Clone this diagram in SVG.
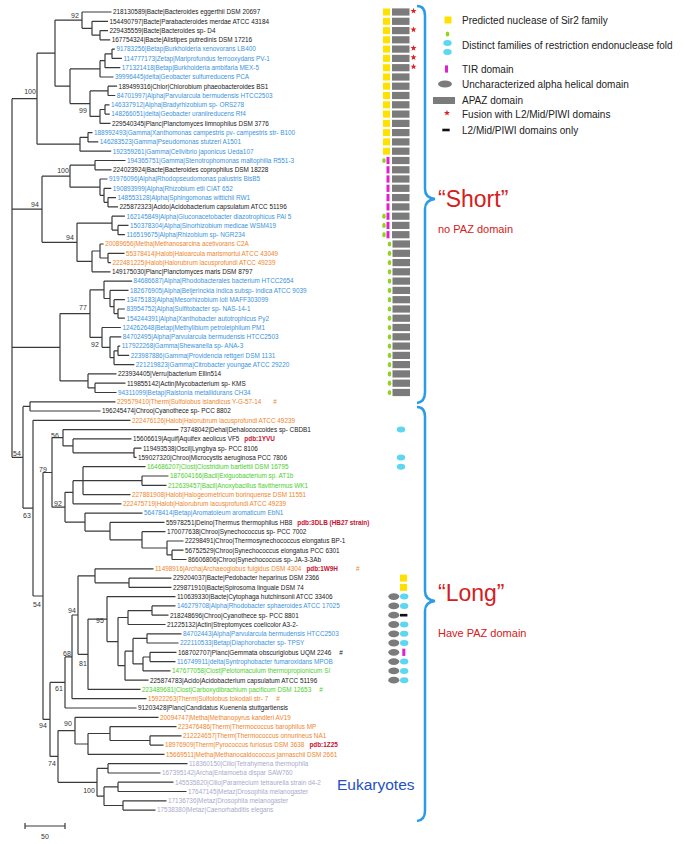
<svg xmlns="http://www.w3.org/2000/svg" xmlns:xlink="http://www.w3.org/1999/xlink" width="685" height="844" viewBox="0 0 685 844">
<style>
text{font-family:"Liberation Sans",Arial,sans-serif}
.l{font-size:6.4px}
.k{fill:#1a1a1a}.b{fill:#3a94dc}.o{fill:#f0862a}.g{fill:#4ccf2a}.v{fill:#aaaacd}
.pdb{fill:#c8102e;font-weight:bold}
.bs{font-size:7px;fill:#333;text-anchor:middle}
.tree{stroke:#3a3a3a;stroke-width:1.2;fill:none}
.lg{font-size:10px;fill:#222}
.brace{stroke:#2b9be8;stroke-width:2.5;fill:none}
.big{font-size:23px;fill:#d42020}
.sub{font-size:11px;fill:#d42020}
</style>
<defs>
<rect id="sq" x="-3.5" y="-3.5" width="7" height="7" fill="#ffe100"/>
<rect id="apaz" x="0" y="-3.6" width="17.5" height="7.2" fill="#7b7b7b"/>
<path id="star" d="M0,-3.2L0.76,-1.05L3.04,-0.99L1.24,0.4L1.88,2.59L0,1.3L-1.88,2.59L-1.24,0.4L-3.04,-0.99L-0.76,-1.05Z" fill="#e02020"/>
<ellipse id="gd" rx="1.8" ry="2.6" fill="#8fd420"/>
<rect id="tir" x="-1.5" y="-3.6" width="3" height="7.2" fill="#e020d0"/>
<ellipse id="cy" rx="4.2" ry="3" fill="#5dd6f2"/>
<ellipse id="gel" rx="5.5" ry="3.4" fill="#7b7b7b"/>
<rect id="blk" x="-3.7" y="-1.3" width="7.4" height="2.6" fill="#111"/>
</defs>

<g id="connectors">
<path class="tree" d="M100 30.6V39.8M100 30.6H108M100 39.8H110.2M92 21.3V35.2M92 21.3H108M92 35.2H100M82 12V28.3M82 12H111.5M82 28.3H92M112 49.1V58.4M112 49.1H114.9M112 58.4H122M105 53.8V67.7M105 53.8H112M105 67.7H120.3M100 60.7V77M100 60.7H105M100 77H113.5M108 86.2V95.5M108 86.2H117.1M108 95.5H115.3M105 104.8V114.1M105 104.8H109.5M105 114.1H109.8M100 109.5V123.4M100 109.5H105M100 123.4H110.5M90 90.9V116.4M90 90.9H108M90 116.4H100M70 68.9V103.6M70 68.9H100M70 103.6H90M55 20.1V86.2M55 20.1H82M55 86.2H70M88 132.6V141.9M88 132.6H92.5M88 141.9H98.3M80 137.3V151.2M80 137.3H88M80 151.2H111.2M37 53.2V144.2M37 53.2H55M37 144.2H80"/>
<path class="tree" d="M95 160.5V169.8M95 160.5H125.5M95 169.8H111.5M108 197.6V206.9M108 197.6H116M108 206.9H118M104 188.3V202.3M104 188.3H111.3M104 202.3H108M100 179V195.3M100 179H107.5M100 195.3H104M70 165.2V187.2M70 165.2H95M70 187.2H100M118 225.4V234.7M118 225.4H128.5M118 234.7H124.9M112 216.2V230.1M112 216.2H124.9M112 230.1H118M108 253.3V262.6M108 253.3H124.5M108 262.6H110.9M100 244V258M100 244H103.7M100 258H108M92 251V271.8M92 251H100M92 271.8H110.5M77 223.1V261.4M77 223.1H112M77 261.4H92M42 176.2V242.3M42 176.2H70M42 242.3H77"/>
<path class="tree" d="M118 309V318.2M118 309H124.9M118 318.2H124.9M114 299.7V313.6M114 299.7H124.9M114 313.6H118M110 290.4V306.7M110 290.4H128.5M110 306.7H114M104 281.1V298.5M104 281.1H132.1M104 298.5H110M118 346.1V355.4M118 346.1H120.2M118 355.4H129.2M114 350.8V364.6M114 350.8H118M114 364.6H134.3M110 336.8V357.7M110 336.8H121.3M110 357.7H114M102 327.5V347.3M102 327.5H120.9M102 347.3H110M90 289.8V337.4M90 289.8H104M90 337.4H102M95 383.2V392.5M95 383.2H125.5M95 392.5H116.5M88 373.9V387.9M88 373.9H116.5M88 387.9H95M60 313.6V380.9M60 313.6H90M60 380.9H88M12 98.7V457.3M12 98.7H37M12 209.2H42M12 347.3H60M12 457.3H23"/>
<path class="tree" d="M30 401.8V411M30 401.8H115.5M30 411H100.5M23 406.4V508.1M23 406.4H30M23 508.1H33M33 420.3V596M33 420.3H130.5M33 596H43M43 472.5V719.4M43 472.5H52M43 719.4H50M52 437.7V507.2M52 437.7H63M52 507.2H65M63 429.6V445.9M63 429.6H178.5M63 445.9H73M73 438.9V452.8M73 438.9H131.5M73 452.8H134M134 448.2V457.4M134 448.2H141.5M134 457.4H136.5M65 492.3V522.1M65 492.3H73M65 522.1H85M73 480.7V503.8M73 480.7H83M73 503.8H121.5M83 466.7V494.6M83 466.7H145.5M83 480.7H142M83 494.6H130.5M142 476V485.3M142 476H168.5M142 485.3H166.5M85 513.1V531.1M85 513.1H142.5M85 531.1H110M110 522.4V539.8M110 522.4H164.5M110 539.8H142M142 531.7V548M142 531.7H165.5M142 548H167M167 541V554.9M167 541H183.5M167 554.9H172M172 550.2V559.5M172 550.2H183.5M172 559.5H186.5M129 578.1V587.4M129 578.1H171.5M129 587.4H171.5M95 568.8V582.8M95 568.8H153.5M95 582.8H129M152 605.9V615.2M152 605.9H175.5M152 615.2H168.5M128 610.6V624.5M128 610.6H152M128 624.5H165.5M147 633.8V643M147 633.8H181.5M147 643H178.5M150 652.3V661.6M150 652.3H176.5M150 661.6H175.5M143 657V670.9M143 657H150M143 670.9H170.5M133 638.4V663.9M133 638.4H147M133 663.9H143M125 651.2V680.2M125 651.2H133M125 680.2H148.5M118 617.5V665.7M118 617.5H128M118 665.7H125M107 596.6V641.6M107 596.6H175.5M107 641.6H118M88 619.1V689.4M88 619.1H107M88 689.4H140.5M78 575.8V654.3M78 575.8H95M78 654.3H88M72 615V698.7M72 615H78M72 698.7H146.5M65 656.9V708M65 656.9H72M65 708H136.5M150 735.8V745.1M150 735.8H181.5M150 745.1H163.5M110 726.6V740.5M110 726.6H176.5M110 740.5H150M88 733.5V754.4M88 733.5H110M88 754.4H164.5M75 717.3V744M75 717.3H158.5M75 744H88M108 763.7V773M108 763.7H187.5M108 773H160.5M118 782.2V791.5M118 782.2H173.5M118 791.5H186.5M123 800.8V810.1M123 800.8H166.5M123 810.1H155.5M104 786.9V805.5M104 786.9H118M104 805.5H123M97 768.4V796.2M97 768.4H108M97 796.2H104M58 730.6V782.3M58 730.6H75M58 782.3H97M50 682.4V756.4M50 682.4H65M50 756.4H58"/>
</g>

<g id="bootstrap">
<text class="bs" x="75" y="17.5">92</text>
<text class="bs" x="30" y="94">100</text>
<text class="bs" x="83" y="113">99</text>
<text class="bs" x="63" y="172.5">100</text>
<text class="bs" x="35" y="206.5">94</text>
<text class="bs" x="70" y="239.5">94</text>
<text class="bs" x="83" y="309.5">77</text>
<text class="bs" x="95" y="346.5">92</text>
<text class="bs" x="55" y="437.5">56</text>
<text class="bs" x="17" y="455.5">54</text>
<text class="bs" x="43" y="471.5">79</text>
<text class="bs" x="58" y="505.5">92</text>
<text class="bs" x="27" y="517.5">63</text>
<text class="bs" x="37" y="606.5">54</text>
<text class="bs" x="72" y="612.5">94</text>
<text class="bs" x="100" y="622.5">95</text>
<text class="bs" x="67" y="655.5">68</text>
<text class="bs" x="83" y="665.5">81</text>
<text class="bs" x="59" y="690.5">61</text>
<text class="bs" x="68" y="725.5">90</text>
<text class="bs" x="43" y="727.5">94</text>
<text class="bs" x="52" y="765.5">74</text>
<text class="bs" x="89" y="792.5">100</text>
</g>

<g id="leaf1" transform="translate(0,12)"><text class="l k" x="113" y="2.3">218130589|Bacte|Bacteroides eggerthii DSM 20697</text><use href="#sq" x="386.5"/><use href="#apaz" x="392"/><use href="#star" x="413.5" y="-1"/></g>
<g id="leaf2" transform="translate(0,21.3)"><text class="l k" x="109.5" y="2.3">154490797|Bacte|Parabacteroides merdae ATCC 43184</text><use href="#sq" x="386.5"/><use href="#apaz" x="392"/></g>
<g id="leaf3" transform="translate(0,30.6)"><text class="l k" x="109.5" y="2.3">229435559|Bacte|Bacteroides sp- D4</text><use href="#sq" x="386.5"/><use href="#apaz" x="392"/><use href="#star" x="413.5" y="-1"/></g>
<g id="leaf4" transform="translate(0,39.8)"><text class="l k" x="111.7" y="2.3">167754324|Bacte|Alistipes putredinis DSM 17216</text><use href="#sq" x="386.5"/><use href="#apaz" x="392"/></g>
<g id="leaf5" transform="translate(0,49.1)"><text class="l b" x="116.4" y="2.3">91783256|Betap|Burkholderia xenovorans LB400</text><use href="#sq" x="386.5"/><use href="#apaz" x="392"/><use href="#star" x="413.5" y="-1"/></g>
<g id="leaf6" transform="translate(0,58.4)"><text class="l b" x="123.5" y="2.3">114777173|Zetap|Mariprofundus ferrooxydans PV-1</text><use href="#sq" x="386.5"/><use href="#apaz" x="392"/><use href="#star" x="413.5" y="-1"/></g>
<g id="leaf7" transform="translate(0,67.7)"><text class="l b" x="121.8" y="2.3">171321418|Betap|Burkholderia ambifaria MEX-5</text><use href="#sq" x="386.5"/><use href="#apaz" x="392"/><use href="#star" x="413.5" y="-1"/></g>
<g id="leaf8" transform="translate(0,77)"><text class="l b" x="115" y="2.3">39996445|delta|Geobacter sulfurreducens PCA</text><use href="#sq" x="386.5"/><use href="#apaz" x="392"/></g>
<g id="leaf9" transform="translate(0,86.2)"><text class="l k" x="118.6" y="2.3">189499316|Chlor|Chlorobium phaeobacteroides BS1</text><use href="#sq" x="386.5"/><use href="#apaz" x="392"/></g>
<g id="leaf10" transform="translate(0,95.5)"><text class="l b" x="116.8" y="2.3">84701997|Alpha|Parvularcula bermudensis HTCC2503</text><use href="#sq" x="386.5"/><use href="#apaz" x="392"/></g>
<g id="leaf11" transform="translate(0,104.8)"><text class="l b" x="111" y="2.3">146337912|Alpha|Bradyrhizobium sp- ORS278</text><use href="#sq" x="386.5"/><use href="#apaz" x="392"/></g>
<g id="leaf12" transform="translate(0,114.1)"><text class="l b" x="111.3" y="2.3">148266051|delta|Geobacter uraniireducens Rf4</text><use href="#sq" x="386.5"/><use href="#apaz" x="392"/></g>
<g id="leaf13" transform="translate(0,123.4)"><text class="l k" x="112" y="2.3">229540345|Planc|Planctomyces limnophilus DSM 3776</text><use href="#sq" x="386.5"/><use href="#apaz" x="392"/></g>
<g id="leaf14" transform="translate(0,132.6)"><text class="l b" x="94" y="2.3">188992493|Gamma|Xanthomonas campestris pv- campestris str- B100</text><use href="#sq" x="386.5"/><use href="#apaz" x="392"/></g>
<g id="leaf15" transform="translate(0,141.9)"><text class="l b" x="99.8" y="2.3">146283523|Gamma|Pseudomonas stutzeri A1501</text><use href="#sq" x="386.5"/><use href="#apaz" x="392"/></g>
<g id="leaf16" transform="translate(0,151.2)"><text class="l b" x="112.7" y="2.3">192359261|Gamma|Cellvibrio japonicus Ueda107</text><use href="#sq" x="386.5"/><use href="#apaz" x="392"/></g>
<g id="leaf17" transform="translate(0,160.5)"><text class="l b" x="127" y="2.3">194365751|Gamma|Stenotrophomonas maltophilia R551-3</text><use href="#gd" x="384"/><use href="#tir" x="388"/><use href="#apaz" x="392"/></g>
<g id="leaf18" transform="translate(0,169.8)"><text class="l k" x="113" y="2.3">224023924|Bacte|Bacteroides coprophilus DSM 18228</text><use href="#tir" x="388"/><use href="#apaz" x="392"/></g>
<g id="leaf19" transform="translate(0,179)"><text class="l b" x="109" y="2.3">91976096|Alpha|Rhodopseudomonas palustris BisB5</text><use href="#tir" x="388"/><use href="#apaz" x="392"/></g>
<g id="leaf20" transform="translate(0,188.3)"><text class="l b" x="112.8" y="2.3">190893999|Alpha|Rhizobium etli CIAT 652</text><use href="#tir" x="388"/><use href="#apaz" x="392"/></g>
<g id="leaf21" transform="translate(0,197.6)"><text class="l b" x="117.5" y="2.3">148553128|Alpha|Sphingomonas wittichii RW1</text><use href="#tir" x="388"/><use href="#apaz" x="392"/></g>
<g id="leaf22" transform="translate(0,206.9)"><text class="l k" x="119.5" y="2.3">225872323|Acido|Acidobacterium capsulatum ATCC 51196</text><use href="#tir" x="388"/><use href="#apaz" x="392"/></g>
<g id="leaf23" transform="translate(0,216.2)"><text class="l b" x="126.4" y="2.3">162145849|Alpha|Gluconacetobacter diazotrophicus PAl 5</text><use href="#gd" x="384"/><use href="#tir" x="388"/><use href="#apaz" x="392"/></g>
<g id="leaf24" transform="translate(0,225.4)"><text class="l b" x="130" y="2.3">150378304|Alpha|Sinorhizobium medicae WSM419</text><use href="#gd" x="384"/><use href="#tir" x="388"/><use href="#apaz" x="392"/></g>
<g id="leaf25" transform="translate(0,234.7)"><text class="l b" x="126.4" y="2.3">116519675|Alpha|Rhizobium sp- NGR234</text><use href="#gd" x="384"/><use href="#tir" x="388"/><use href="#apaz" x="392"/></g>
<g id="leaf26" transform="translate(0,244)"><text class="l o" x="105.2" y="2.3">20089656|Metha|Methanosarcina acetivorans C2A</text><use href="#gd" x="389.5"/><use href="#apaz" x="392.5"/></g>
<g id="leaf27" transform="translate(0,253.3)"><text class="l o" x="126" y="2.3">55378414|Halob|Haloarcula marismortui ATCC 43049</text><use href="#gd" x="389.5"/><use href="#apaz" x="392.5"/></g>
<g id="leaf28" transform="translate(0,262.6)"><text class="l o" x="112.4" y="2.3">222481225|Halob|Halorubrum lacusprofundi ATCC 49239</text><use href="#gd" x="389.5"/><use href="#apaz" x="392.5"/></g>
<g id="leaf29" transform="translate(0,271.8)"><text class="l k" x="112" y="2.3">149175030|Planc|Planctomyces maris DSM 8797</text><use href="#gd" x="389.5"/><use href="#apaz" x="392.5"/></g>
<g id="leaf30" transform="translate(0,281.1)"><text class="l b" x="133.6" y="2.3">84686687|Alpha|Rhodobacterales bacterium HTCC2654</text><use href="#gd" x="389.5"/><use href="#apaz" x="392.5"/></g>
<g id="leaf31" transform="translate(0,290.4)"><text class="l b" x="130" y="2.3">182676905|Alpha|Beijerinckia indica subsp- indica ATCC 9039</text><use href="#gd" x="389.5"/><use href="#apaz" x="392.5"/></g>
<g id="leaf32" transform="translate(0,299.7)"><text class="l b" x="126.4" y="2.3">13475183|Alpha|Mesorhizobium loti MAFF303099</text><use href="#gd" x="389.5"/><use href="#apaz" x="392.5"/></g>
<g id="leaf33" transform="translate(0,309)"><text class="l b" x="126.4" y="2.3">83954752|Alpha|Sulfitobacter sp- NAS-14-1</text><use href="#gd" x="389.5"/><use href="#apaz" x="392.5"/></g>
<g id="leaf34" transform="translate(0,318.2)"><text class="l b" x="126.4" y="2.3">154244391|Alpha|Xanthobacter autotrophicus Py2</text><use href="#gd" x="389.5"/><use href="#apaz" x="392.5"/></g>
<g id="leaf35" transform="translate(0,327.5)"><text class="l b" x="122.4" y="2.3">124262648|Betap|Methylibium petroleiphilum PM1</text><use href="#gd" x="389.5"/><use href="#apaz" x="392.5"/></g>
<g id="leaf36" transform="translate(0,336.8)"><text class="l b" x="122.8" y="2.3">84702495|Alpha|Parvularcula bermudensis HTCC2503</text><use href="#gd" x="389.5"/><use href="#apaz" x="392.5"/></g>
<g id="leaf37" transform="translate(0,346.1)"><text class="l b" x="121.7" y="2.3">117922268|Gamma|Shewanella sp- ANA-3</text><use href="#gd" x="389.5"/><use href="#apaz" x="392.5"/></g>
<g id="leaf38" transform="translate(0,355.4)"><text class="l b" x="130.7" y="2.3">223987886|Gamma|Providencia rettgeri DSM 1131</text><use href="#gd" x="389.5"/><use href="#apaz" x="392.5"/></g>
<g id="leaf39" transform="translate(0,364.6)"><text class="l b" x="135.8" y="2.3">221219823|Gamma|Citrobacter youngae ATCC 29220</text><use href="#gd" x="389.5"/><use href="#apaz" x="392.5"/></g>
<g id="leaf40" transform="translate(0,373.9)"><text class="l k" x="118" y="2.3">223934405|Verru|bacterium Ellin514</text><use href="#gd" x="389.5"/><use href="#apaz" x="392.5"/></g>
<g id="leaf41" transform="translate(0,383.2)"><text class="l k" x="127" y="2.3">119855142|Actin|Mycobacterium sp- KMS</text><use href="#gd" x="389.5"/><use href="#apaz" x="392.5"/></g>
<g id="leaf42" transform="translate(0,392.5)"><text class="l b" x="118" y="2.3">94311099|Betap|Ralstonia metallidurans CH34</text><use href="#gd" x="389.5"/><use href="#apaz" x="392.5"/></g>
<g id="leaf43" transform="translate(0,401.8)"><text class="l o" x="117" y="2.3">229579410|Therm|Sulfolobus islandicus Y-G-57-14<tspan dx="12">#</tspan></text></g>
<g id="leaf44" transform="translate(0,411)"><text class="l k" x="102" y="2.3">196245474|Chroo|Cyanothece sp- PCC 8802</text></g>
<g id="leaf45" transform="translate(0,420.3)"><text class="l o" x="132" y="2.3">222476126|Halob|Halorubrum lacusprofundi ATCC 49239</text></g>
<g id="leaf46" transform="translate(0,429.6)"><text class="l k" x="180" y="2.3">73748042|Dehal|Dehalococcoides sp- CBDB1</text><use href="#cy" x="401"/></g>
<g id="leaf47" transform="translate(0,438.9)"><text class="l k" x="133" y="2.3">15606619|Aquif|Aquifex aeolicus VF5<tspan class="pdb" dx="5">pdb:1YVU</tspan></text></g>
<g id="leaf48" transform="translate(0,448.2)"><text class="l k" x="143" y="2.3">119493538|Oscil|Lyngbya sp- PCC 8106</text></g>
<g id="leaf49" transform="translate(0,457.4)"><text class="l k" x="138" y="2.3">159027320|Chroo|Microcystis aeruginosa PCC 7806</text><use href="#cy" x="401"/></g>
<g id="leaf50" transform="translate(0,466.7)"><text class="l g" x="147" y="2.3">164686207|Clost|Clostridium bartlettii DSM 16795</text><use href="#cy" x="401"/></g>
<g id="leaf51" transform="translate(0,476)"><text class="l g" x="170" y="2.3">187604166|Bacil|Exiguobacterium sp. AT1b</text></g>
<g id="leaf52" transform="translate(0,485.3)"><text class="l g" x="168" y="2.3">212639457|Bacil|Anoxybacillus flavithermus WK1</text></g>
<g id="leaf53" transform="translate(0,494.6)"><text class="l o" x="132" y="2.3">227881908|Halob|Halogeometricum borinquense DSM 11551</text></g>
<g id="leaf54" transform="translate(0,503.8)"><text class="l o" x="123" y="2.3">222475719|Halob|Halorubrum lacusprofundi ATCC 49239</text></g>
<g id="leaf55" transform="translate(0,513.1)"><text class="l b" x="144" y="2.3">56478414|Betap|Aromatoleum aromaticum EbN1</text></g>
<g id="leaf56" transform="translate(0,522.4)"><text class="l k" x="166" y="2.3">55978251|Deino|Thermus thermophilus HB8<tspan class="pdb" dx="5">pdb:3DLB (HB27 strain)</tspan></text></g>
<g id="leaf57" transform="translate(0,531.7)"><text class="l k" x="167" y="2.3">170077638|Chroo|Synechococcus sp- PCC 7002</text></g>
<g id="leaf58" transform="translate(0,541)"><text class="l k" x="185" y="2.3">22298491|Chroo|Thermosynechococcus elongatus BP-1</text></g>
<g id="leaf59" transform="translate(0,550.2)"><text class="l k" x="185" y="2.3">56752529|Chroo|Synechococcus elongatus PCC 6301</text></g>
<g id="leaf60" transform="translate(0,559.5)"><text class="l k" x="188" y="2.3">86606806|Chroo|Synechococcus sp- JA-3-3Ab</text></g>
<g id="leaf61" transform="translate(0,568.8)"><text class="l o" x="155" y="2.3">11498916|Archa|Archaeoglobus fulgidus DSM 4304<tspan class="pdb" dx="5">pdb:1W9H</tspan><tspan dx="18">#</tspan></text></g>
<g id="leaf62" transform="translate(0,578.1)"><text class="l k" x="173" y="2.3">229204037|Bacte|Pedobacter heparinus DSM 2366</text><use href="#sq" x="403.5"/></g>
<g id="leaf63" transform="translate(0,587.4)"><text class="l k" x="173" y="2.3">229871910|Bacte|Spirosoma linguale DSM 74</text><use href="#sq" x="403.5"/></g>
<g id="leaf64" transform="translate(0,596.6)"><text class="l k" x="177" y="2.3">110639330|Bacte|Cytophaga hutchinsonii ATCC 33406</text><use href="#gel" x="393.8"/><use href="#cy" x="404.2"/></g>
<g id="leaf65" transform="translate(0,605.9)"><text class="l b" x="177" y="2.3">146279708|Alpha|Rhodobacter sphaeroides ATCC 17025</text><use href="#gel" x="393.8"/><use href="#cy" x="404.2"/></g>
<g id="leaf66" transform="translate(0,615.2)"><text class="l k" x="170" y="2.3">218248696|Chroo|Cyanothece sp- PCC 8801</text><use href="#gel" x="393.8"/><use href="#blk" x="403.7"/></g>
<g id="leaf67" transform="translate(0,624.5)"><text class="l k" x="167" y="2.3">21225132|Actin|Streptomyces coelicolor A3-2-</text><use href="#gel" x="393.8"/><use href="#cy" x="404.2"/></g>
<g id="leaf68" transform="translate(0,633.8)"><text class="l b" x="183" y="2.3">84702443|Alpha|Parvularcula bermudensis HTCC2503</text><use href="#gel" x="393.8"/><use href="#cy" x="404.2"/></g>
<g id="leaf69" transform="translate(0,643)"><text class="l b" x="180" y="2.3">222110533|Betap|Diaphorobacter sp- TPSY</text><use href="#gel" x="393.8"/><use href="#cy" x="404.2"/></g>
<g id="leaf70" transform="translate(0,652.3)"><text class="l k" x="178" y="2.3">168702707|Planc|Gemmata obscuriglobus UQM 2246<tspan dx="8">#</tspan></text><use href="#gel" x="393.8"/><use href="#tir" x="403.8"/></g>
<g id="leaf71" transform="translate(0,661.6)"><text class="l b" x="177" y="2.3">116749911|delta|Syntrophobacter fumaroxidans MPOB</text><use href="#gel" x="393.8"/><use href="#cy" x="404.2"/></g>
<g id="leaf72" transform="translate(0,670.9)"><text class="l g" x="172" y="2.3">147677058|Clost|Pelotomaculum thermopropionicum SI</text><use href="#gel" x="393.8"/><use href="#cy" x="404.2"/></g>
<g id="leaf73" transform="translate(0,680.2)"><text class="l k" x="150" y="2.3">225874783|Acido|Acidobacterium capsulatum ATCC 51196</text><use href="#gel" x="393.8"/><use href="#cy" x="404.2"/></g>
<g id="leaf74" transform="translate(0,689.4)"><text class="l g" x="142" y="2.3">223489681|Clost|Carboxydibrachium pacificum DSM 12653<tspan dx="8">#</tspan></text></g>
<g id="leaf75" transform="translate(0,698.7)"><text class="l o" x="148" y="2.3">15922263|Therm|Sulfolobus tokodaii str- 7<tspan dx="8">#</tspan></text></g>
<g id="leaf76" transform="translate(0,708)"><text class="l k" x="138" y="2.3">91203428|Planc|Candidatus Kuenenia stuttgartiensis</text></g>
<g id="leaf77" transform="translate(0,717.3)"><text class="l o" x="160" y="2.3">20094747|Metha|Methanopyrus kandleri AV19</text></g>
<g id="leaf78" transform="translate(0,726.6)"><text class="l o" x="178" y="2.3">223476486|Therm|Thermococcus barophilus MP</text></g>
<g id="leaf79" transform="translate(0,735.8)"><text class="l o" x="183" y="2.3">212224657|Therm|Thermococcus onnurineus NA1</text></g>
<g id="leaf80" transform="translate(0,745.1)"><text class="l o" x="165" y="2.3">18976909|Therm|Pyrococcus furiosus DSM 3638<tspan class="pdb" dx="5">pdb:1Z25</tspan></text></g>
<g id="leaf81" transform="translate(0,754.4)"><text class="l o" x="166" y="2.3">15669511|Metha|Methanocaldococcus jannaschii DSM 2661</text></g>
<g id="leaf82" transform="translate(0,763.7)"><text class="l v" x="189" y="2.3">118360150|Cilio|Tetrahymena thermophila</text></g>
<g id="leaf83" transform="translate(0,773)"><text class="l v" x="162" y="2.3">167395142|Archa|Entamoeba dispar SAW760</text></g>
<g id="leaf84" transform="translate(0,782.2)"><text class="l v" x="175" y="2.3">145535820|Cilio|Paramecium tetraurelia strain d4-2</text></g>
<g id="leaf85" transform="translate(0,791.5)"><text class="l v" x="188" y="2.3">17647145|Metaz|Drosophila melanogaster</text></g>
<g id="leaf86" transform="translate(0,800.8)"><text class="l v" x="168" y="2.3">17136736|Metaz|Drosophila melanogaster</text></g>
<g id="leaf87" transform="translate(0,810.1)"><text class="l v" x="157" y="2.3">17538380|Metaz|Caenorhabditis elegans</text></g>

<g id="braces">
<path class="brace" d="M417,6Q425,6 425,16L425,189Q425,198 435,199Q425,200 425,209L425,392Q425,402 417,403"/>
<path class="brace" d="M417,407Q425,407 425,417L425,591Q425,600 435,601Q425,602 425,611L425,811Q425,820 417,821"/>
</g>
<g id="group-labels">
<text class="big" x="438" y="207">“Short”</text>
<text class="sub" x="438" y="233">no PAZ domain</text>
<text class="big" x="438" y="601">“Long”</text>
<text class="sub" x="438" y="637">Have PAZ domain</text>
<text x="337" y="790" font-size="15.5" fill="#1f50c8">Eukaryotes</text>
</g>

<g id="legend">
<use href="#sq" x="448" y="20"/><text class="lg" x="462" y="23.5">Predicted nuclease of Sir2 family</text>
<use href="#gd" x="447.5" y="34"/><use href="#cy" x="447.5" y="43"/><use href="#cy" x="447.5" y="52"/><text class="lg" x="462" y="48.5">Distinct families of restriction endonuclease fold</text>
<use href="#tir" x="446.5" y="69"/><text class="lg" x="462" y="72.5">TIR domain</text>
<ellipse cx="445" cy="84" rx="7" ry="3.5" fill="#7b7b7b"/><text class="lg" x="462" y="87.5">Uncharacterized alpha helical domain</text>
<rect x="433" y="97" width="22" height="7" fill="#7b7b7b"/><text class="lg" x="462" y="103.5">APAZ domain</text>
<use href="#star" x="447" y="113"/><text class="lg" x="462" y="117.5">Fusion with L2/Mid/PIWI domains</text>
<use href="#blk" x="446" y="130"/><text class="lg" x="462" y="133.5">L2/Mid/PIWI domains only</text>
</g>

<g id="scale">
<path class="tree" d="M25 826H65M25 823V829M65 823V829"/>
<text x="45" y="839" font-size="7" fill="#333" text-anchor="middle">50</text>
</g>
</svg>
